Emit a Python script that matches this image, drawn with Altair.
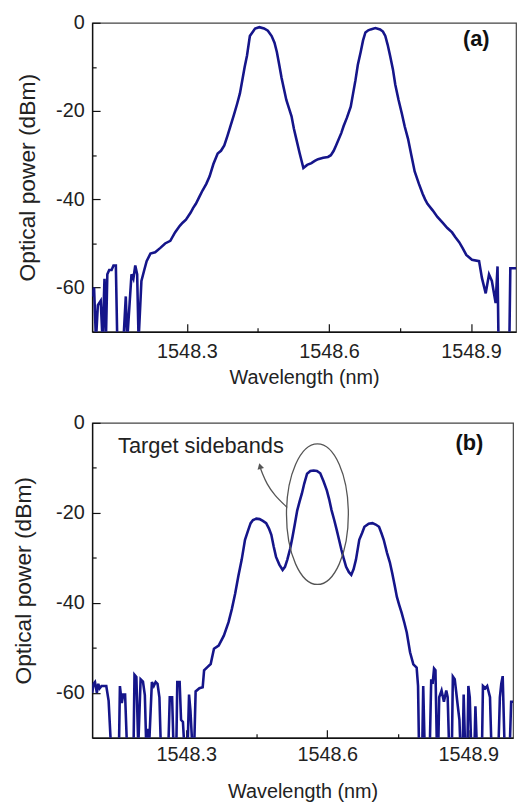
import altair as alt
import pandas as pd

# ---------------- data ----------------
A_WL = [1548.100, 1548.104, 1548.108, 1548.112, 1548.118, 1548.122, 1548.126, 1548.129,
        1548.132, 1548.136, 1548.141, 1548.145, 1548.150, 1548.153, 1548.166, 1548.171,
        1548.174, 1548.183, 1548.187, 1548.191, 1548.195, 1548.198,
        1548.204, 1548.210, 1548.215, 1548.223, 1548.233, 1548.244, 1548.254, 1548.265,
        1548.275, 1548.285, 1548.291, 1548.298, 1548.308, 1548.313, 1548.319, 1548.326,
        1548.333, 1548.341, 1548.348, 1548.356, 1548.365, 1548.372, 1548.379, 1548.386,
        1548.392, 1548.399, 1548.406, 1548.412, 1548.417, 1548.422, 1548.427, 1548.433,
        1548.444, 1548.453, 1548.463, 1548.471, 1548.479, 1548.485, 1548.490, 1548.495,
        1548.500, 1548.505, 1548.510, 1548.516, 1548.521, 1548.526, 1548.531, 1548.538,
        1548.546, 1548.554, 1548.563, 1548.570, 1548.577, 1548.588, 1548.598, 1548.604,
        1548.610, 1548.615, 1548.621, 1548.626, 1548.631, 1548.638, 1548.646, 1548.651,
        1548.656, 1548.661, 1548.667, 1548.672, 1548.677, 1548.683, 1548.688, 1548.698,
        1548.708, 1548.714, 1548.719, 1548.724, 1548.729, 1548.735, 1548.740, 1548.747,
        1548.754, 1548.760, 1548.767, 1548.774, 1548.781, 1548.790, 1548.798, 1548.803,
        1548.808, 1548.819, 1548.829, 1548.840, 1548.850, 1548.860, 1548.867, 1548.875,
        1548.882, 1548.890, 1548.902, 1548.917, 1548.923, 1548.931, 1548.938, 1548.944,
        1548.952, 1548.956, 1548.958, 1548.981, 1548.983, 1548.995]
A_DB = [-62, -60, -72, -64, -63, -72, -58, -72,
        -57, -56, -56, -55, -55, -72, -72, -62,
        -72, -57, -58, -55, -57, -72,
        -58.5, -56, -54, -52.3, -52, -51, -50, -49.4,
        -47.5, -46, -45.3, -44.6, -43, -42, -41, -39.5,
        -38, -36.5, -34.8, -32, -29.6, -29.0, -27.8, -25.5,
        -23.4, -21, -18.4, -16, -13, -10, -7.4, -3,
        -1.3, -1.0, -1.3, -1.8, -3, -4.5, -6.6, -9.5,
        -12.5, -15, -17.5, -19.5, -21.2, -24, -26.3, -29.5,
        -32.9, -32.2, -31.8, -31.3, -30.9, -30.6, -30.4, -30,
        -29, -27.8, -26.3, -25, -23.4, -21.5, -19, -16,
        -13, -9.5, -6.6, -4, -2.2, -1.7, -1.5, -1.2,
        -1.5, -2, -3, -5, -7.4, -10.5, -14, -17.5,
        -20.6, -23.5, -26.3, -30, -33.7, -36.5, -38.8, -40,
        -41, -42.5, -44, -45.3, -46.5, -47.5, -48.6, -49.7,
        -51, -52.6, -53.7, -54, -57.8, -61.3, -57, -58.5,
        -63.5, -55.2, -72, -72, -55.6, -55.6]

B_WL = [1548.100, 1548.103, 1548.106, 1548.110, 1548.113, 1548.116, 1548.120, 1548.125,
        1548.130, 1548.135, 1548.140, 1548.157, 1548.159, 1548.163, 1548.166, 1548.170,
        1548.174, 1548.188, 1548.190, 1548.194, 1548.198, 1548.203, 1548.208, 1548.212,
        1548.215, 1548.218, 1548.221, 1548.227, 1548.231, 1548.235, 1548.239, 1548.243,
        1548.246, 1548.262, 1548.265, 1548.270, 1548.273, 1548.279, 1548.281, 1548.286,
        1548.289, 1548.293, 1548.296, 1548.303, 1548.306, 1548.309, 1548.313, 1548.317,
        1548.320, 1548.328, 1548.335, 1548.338, 1548.345, 1548.352, 1548.359, 1548.369,
        1548.380, 1548.390, 1548.397, 1548.404, 1548.411, 1548.418, 1548.425, 1548.432,
        1548.437, 1548.442, 1548.449, 1548.456, 1548.463, 1548.470, 1548.476, 1548.481,
        1548.486, 1548.491, 1548.498, 1548.505, 1548.510, 1548.515, 1548.521, 1548.526,
        1548.531, 1548.536, 1548.541, 1548.546, 1548.551, 1548.557, 1548.564, 1548.571,
        1548.578, 1548.585, 1548.592, 1548.599, 1548.604, 1548.609, 1548.615, 1548.620,
        1548.625, 1548.630, 1548.635, 1548.640, 1548.646, 1548.651, 1548.656, 1548.661,
        1548.668, 1548.674, 1548.679, 1548.688, 1548.696, 1548.703, 1548.710, 1548.715,
        1548.720, 1548.727, 1548.733, 1548.738, 1548.743, 1548.748, 1548.753, 1548.758,
        1548.764, 1548.769, 1548.776, 1548.783, 1548.790, 1548.793, 1548.795, 1548.802,
        1548.804, 1548.807, 1548.818, 1548.821, 1548.824, 1548.827, 1548.830, 1548.833,
        1548.836, 1548.838, 1548.843, 1548.848, 1548.853, 1548.856, 1548.859, 1548.865,
        1548.867, 1548.871, 1548.874, 1548.877, 1548.881, 1548.883, 1548.888, 1548.890,
        1548.893, 1548.898, 1548.900, 1548.903, 1548.906, 1548.913, 1548.915, 1548.918,
        1548.929, 1548.931, 1548.936, 1548.940, 1548.946, 1548.949, 1548.964, 1548.967,
        1548.970, 1548.973, 1548.977, 1548.988, 1548.991, 1548.995]
B_DB = [-60, -58, -57.6, -60, -58, -59, -58.5, -58.5,
        -58.5, -61.8, -72, -72, -58.5, -62.3, -60.4, -60.4,
        -72, -72, -56, -56.5, -72, -57, -57.5, -60.5,
        -72, -68, -72, -57.6, -58.5, -57.6, -58, -61,
        -72, -72, -61, -61, -72, -72, -57.6, -57.6,
        -66, -66.5, -72, -72, -60.4, -64, -72, -72,
        -59.7, -59, -58.8, -55, -54.3, -53.6, -50.2, -49.5,
        -47.3, -44.3, -41.4, -38, -34, -30.4, -26, -23.8,
        -22.3, -21.6, -21.3, -21.4, -21.8, -22.3, -23.5, -24.9,
        -27.5, -29.8, -31.5, -32.7, -32, -30.4, -28, -25.4,
        -22.5, -19.5, -17.5, -15.7, -13.5, -11.3, -10.7, -10.6,
        -10.7, -11.2, -13, -15, -17, -19.4, -21.7, -23.8,
        -26, -28.2, -30.2, -32, -33.2, -33.8, -32.5, -30.4,
        -26, -24.5, -23.1, -22.4, -22.3, -22.6, -23.1, -24.5,
        -26, -28.9, -31, -33.4, -36, -38.7, -40.5, -42.2,
        -44.5, -46.6, -51, -53.7, -54.4, -58.5, -72, -72,
        -58.5, -72, -72, -57, -58, -54.6, -55, -72,
        -72, -61, -59.5, -62, -59.5, -61, -72, -72,
        -56.4, -57, -59.7, -62.5, -66, -72, -72, -60.4,
        -72, -72, -58.5, -61, -72, -72, -63, -72,
        -72, -58.5, -59, -58.5, -61, -72, -72, -61,
        -58, -56.3, -72, -72, -62, -62]

X_TICKS = [1548.3, 1548.45, 1548.6, 1548.75, 1548.9]
Y_TICKS = [-60, -50, -40, -30, -20, -10, 0]
X_DOMAIN = [1548.1, 1548.995]
Y_DOMAIN = [-70, 0]

PANEL_LABELS = ["(a)", "(b)"]
LABEL_POS = [(1548.911, -3.6), (1548.902, -4.6)]

NOTE_TEXT = "Target sidebands"
NOTE_POS = (1548.155, -5.1)
ELLIPSE_CENTER = (1548.579, -20.3)
ARROW_WL = [1548.5146, 1548.4875, 1548.471, 1548.462, 1548.4575]
ARROW_DB = [-18.8, -16.1, -13.5, -11.3, -10.0]
ARROW_TIP = (1548.4570, -9.6)

LINE_COLOR = "#15158a"
FONT = "Liberation Sans"

X_MAJOR = "abs(datum.value*10 - round(datum.value*10)) < 0.001"
Y_MAJOR = "datum.value % 20 == 0"


def make_panel(wl, db, label, label_pos, width, height, min_extent,
               x_label_pad, x_title_pad, extras=()):
    x = alt.X("wl:Q", scale=alt.Scale(domain=X_DOMAIN, nice=False, zero=False),
              axis=alt.Axis(values=X_TICKS, title="Wavelength (nm)",
                            labelExpr=X_MAJOR + " ? format(datum.value, '.1f') : ''",
                            tickSize={"condition": {"test": X_MAJOR, "value": -8}, "value": -4},
                            labelPadding=x_label_pad, titlePadding=x_title_pad))
    y = alt.Y("db:Q", scale=alt.Scale(domain=Y_DOMAIN, nice=False, zero=False),
              axis=alt.Axis(values=Y_TICKS, title="Optical power (dBm)",
                            labelExpr=Y_MAJOR + " ? '' + datum.value : ''",
                            tickSize={"condition": {"test": Y_MAJOR, "value": -8}, "value": -4},
                            labelPadding=16,
                            minExtent=min_extent, maxExtent=min_extent,
                            titlePadding=13, titleFontSize=23))
    df = pd.DataFrame({"wl": wl, "db": db})
    line = alt.Chart(df).mark_line(interpolate="linear", color=LINE_COLOR,
                                   strokeWidth=2.6, clip=True,
                                   strokeJoin="miter").encode(x=x, y=y)
    lab = alt.Chart(pd.DataFrame({"wl": [label_pos[0]], "db": [label_pos[1]], "t": [label]})).mark_text(
        font=FONT, fontSize=22, fontWeight="bold", color="#111", align="center", baseline="middle"
    ).encode(x=x, y=y, text="t:N")
    layers = [line, lab] + list(extras)
    return alt.layer(*layers).properties(width=width, height=height)


# annotation layers for panel (b)
xb = alt.X("wl:Q", scale=alt.Scale(domain=X_DOMAIN, nice=False, zero=False))
yb = alt.Y("db:Q", scale=alt.Scale(domain=Y_DOMAIN, nice=False, zero=False))

ellipse = alt.Chart(pd.DataFrame({"wl": [ELLIPSE_CENTER[0]], "db": [ELLIPSE_CENTER[1]]})).mark_point(
    shape="M 0 -1 A 0.44 1 0 1 1 0 1 A 0.44 1 0 1 1 0 -1 Z",
    size=20164, filled=False, stroke="#555", strokeWidth=1.3, opacity=1
).encode(x=xb, y=yb)

arrow = alt.Chart(pd.DataFrame({"wl": ARROW_WL, "db": ARROW_DB, "o": list(range(len(ARROW_WL)))})).mark_line(
    interpolate="basis", color="#555", strokeWidth=1.3
).encode(x=xb, y=yb, order="o:Q")

tip = alt.Chart(pd.DataFrame({"wl": [ARROW_TIP[0]], "db": [ARROW_TIP[1]]})).mark_point(
    shape="triangle-up", size=45, filled=True, color="#555", angle=345, opacity=1
).encode(x=xb, y=yb)

note = alt.Chart(pd.DataFrame({"wl": [NOTE_POS[0]], "db": [NOTE_POS[1]], "t": [NOTE_TEXT]})).mark_text(
    font=FONT, fontSize=22, color="#222", align="left", baseline="middle"
).encode(x=xb, y=yb, text="t:N")

panel_a = make_panel(A_WL, A_DB, PANEL_LABELS[0], LABEL_POS[0], 428, 312, 40, 18, 6)
panel_b = make_panel(B_WL, B_DB, PANEL_LABELS[1], LABEL_POS[1], 425, 318, 44, 15, 17,
                     extras=(ellipse, arrow, tip, note))

chart = alt.vconcat(panel_a, panel_b, spacing=24).properties(
    padding={"left": 4, "top": 0, "right": 0, "bottom": 0}
).configure_view(
    stroke="#444", strokeWidth=1.2
).configure_axis(
    grid=False, domainColor="#111", domainWidth=1.4, tickColor="#111", tickWidth=1.2,
    labelFont=FONT, labelFontSize=20, labelColor="#222",
    titleFont=FONT, titleFontSize=20, titleFontWeight="normal", titleColor="#222"
)

chart.save("out.html", embed_options={"renderer": "svg", "actions": False})
